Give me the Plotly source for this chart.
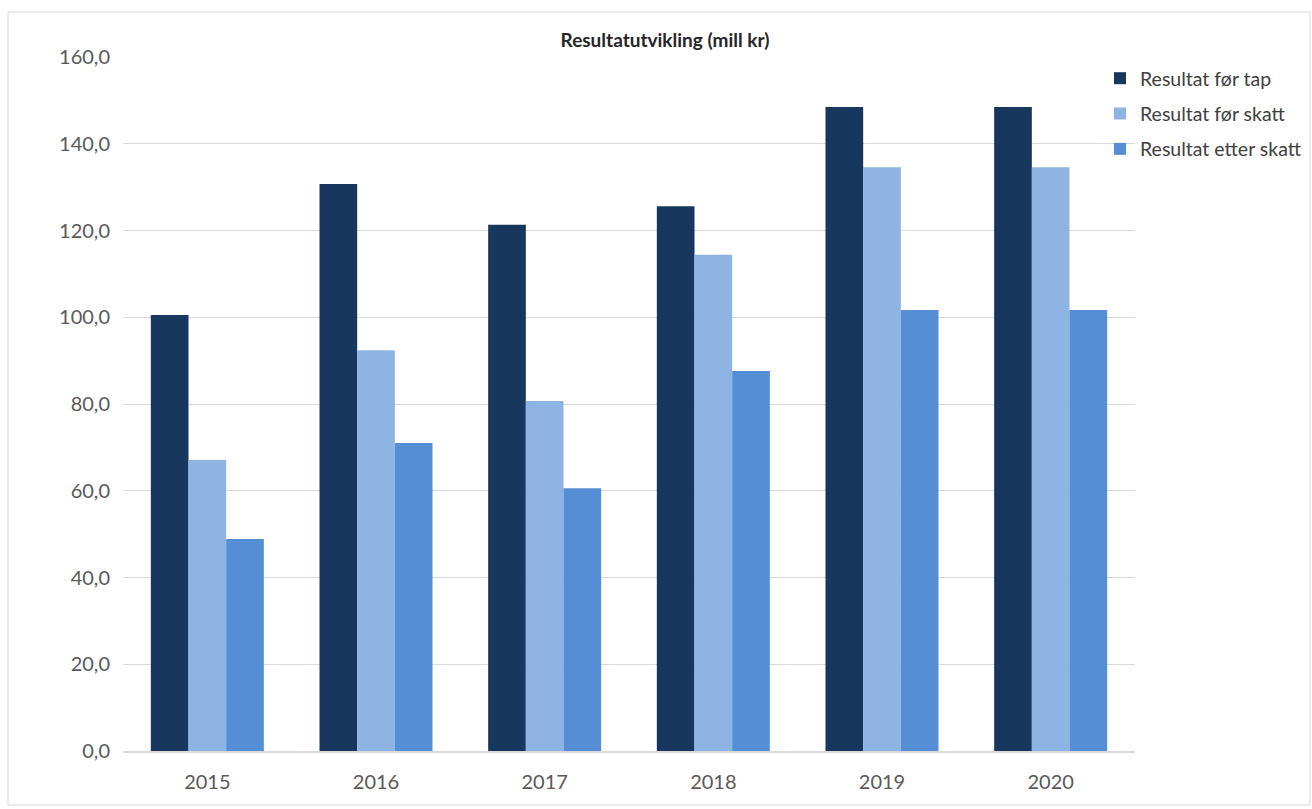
import plotly.graph_objects as go

years = ["2015", "2016", "2017", "2018", "2019", "2020"]
resultat_for_tap = [100.5, 130.7, 121.3, 125.6, 148.5, 148.5]
resultat_for_skatt = [67.1, 92.4, 80.7, 114.4, 134.6, 134.6]
resultat_etter_skatt = [48.9, 71.0, 60.6, 87.6, 101.7, 101.7]

series = [
    ("Resultat før tap", resultat_for_tap, "#17375E"),
    ("Resultat før skatt", resultat_for_skatt, "#8DB4E2"),
    ("Resultat etter skatt", resultat_etter_skatt, "#558ED5"),
]

fig = go.Figure()
for i, (name, vals, col) in enumerate(series):
    fig.add_trace(go.Bar(x=years, y=vals, name=name, marker_color=col, marker_line_width=0,
                         legendgroup=f"g{i}"))

W, H = 1312, 809
ml, mr, mt, mb = 123, 177, 57, 58
pw, ph = W - ml - mr, H - mt - mb

fig.update_layout(
    width=W, height=H,
    margin=dict(l=ml, r=mr, t=mt, b=mb, autoexpand=False),
    paper_bgcolor="white", plot_bgcolor="white",
    barmode="group", bargap=0.33, bargroupgap=0,
    separators=", ",
    font=dict(family="Lato, Open Sans, sans-serif", size=20, color="#595959"),
    title=dict(text="<b>Resultatutvikling (mill kr)</b>", x=665 / W,
               xanchor="center", y=1 - 40 / H, yanchor="middle",
               font=dict(size=19, color="#262626")),
    legend=dict(x=1 + (1100 - 1135) / pw, y=1 - (59 - mt) / ph, xanchor="left", yanchor="top",
                font=dict(size=19.5, color="#404040"), tracegroupgap=7, itemwidth=30,
                bgcolor="rgba(0,0,0,0)"),
    xaxis=dict(showgrid=False, showline=True, linecolor="#D9D9D9", linewidth=1.5,
               ticks="", ticklabelstandoff=12, tickfont=dict(size=20, color="#595959")),
    yaxis=dict(range=[0, 160], dtick=20, tickformat=".1f", showgrid=True, gridcolor="#D9D9D9",
               gridwidth=1, zeroline=False, showline=False, ticks="", ticklabelstandoff=12,
               tickfont=dict(size=20, color="#595959")),
    shapes=[dict(type="rect", xref="paper", yref="paper",
                 x0=(8 - ml) / pw, x1=(1310 - ml) / pw, y0=-(805 - (mt + ph)) / ph, y1=1 + (mt - 12) / ph,
                 line=dict(color="#D9D9D9", width=1), layer="below")],
)

fig.write_html("out.html")
